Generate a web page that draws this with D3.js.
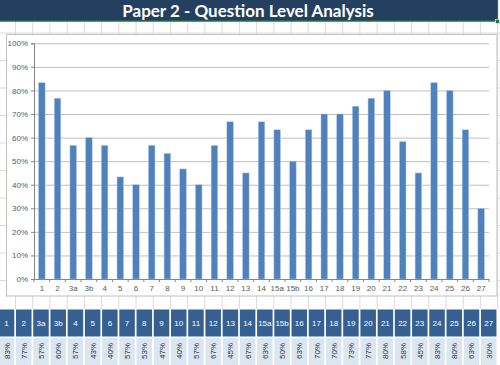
<!DOCTYPE html>
<html>
<head>
<meta charset="utf-8">
<script src="https://cdn.jsdelivr.net/npm/d3@7"></script>
<style>
  body { margin: 0; background: #fff; }
  svg { display: block; font-family: Lato, "Liberation Sans", sans-serif; }
</style>
</head>
<body>
<div id="chart"></div>
<script>
// question labels and facility (share of marks) per question
let questions = ["1", "2", "3a", "3b", "4", "5", "6", "7", "8", "9", "10", "11", "12", "13", "14",
    "15a", "15b", "16", "17", "18", "19", "20", "21", "22", "23", "24", "25", "26", "27"];
let scores = [0.833, 0.767, 0.567, 0.600, 0.567, 0.433, 0.400, 0.567, 0.533, 0.467, 0.400, 0.567, 0.667, 0.450, 0.667,
    0.633, 0.500, 0.633, 0.700, 0.700, 0.733, 0.767, 0.800, 0.583, 0.450, 0.833, 0.800, 0.633, 0.300];
let yTicks = [0, 0.1, 0.2, 0.3, 0.4, 0.5, 0.6, 0.7, 0.8, 0.9, 1.0];
let titleText = "Paper 2 - Question Level Analysis";

let data = questions.map((q, i) => ({ q: q, v: scores[i] }));

let fullWidth = 500, fullHeight = 365;

let svg = d3.select("#chart")
    .append("svg")
    .attr("width", fullWidth)
    .attr("height", fullHeight);

// spreadsheet gridlines behind everything
let colPitch = 17.22;
let colStart = 16 - colPitch;
let grid = svg.append("g").attr("class", "sheet-grid");
d3.range(0, 30).forEach(i => {
    let gx = colStart + i * colPitch - 0.5;
    grid.append("line")
        .attr("x1", gx).attr("x2", gx)
        .attr("y1", 21).attr("y2", 309)
        .style("stroke", "#dadada");
});
[33, 60.5, 88, 115.5, 143, 170.5, 198, 225.5, 253, 280.5].forEach(gy => {
    grid.append("line")
        .attr("x1", 0).attr("x2", fullWidth)
        .attr("y1", gy).attr("y2", gy)
        .style("stroke", "#dadada");
});

// title bar
svg.append("rect")
    .attr("x", 0).attr("y", 0)
    .attr("width", 497).attr("height", 21)
    .style("fill", "#243f60");

svg.append("line")
    .attr("x1", 0).attr("x2", 497.5)
    .attr("y1", 21).attr("y2", 21)
    .style("stroke", "#217346")
    .style("stroke-width", 1.5);
svg.append("line")
    .attr("x1", 497.5).attr("x2", 497.5)
    .attr("y1", 0).attr("y2", 21)
    .style("stroke", "#217346")
    .style("stroke-width", 1.2);
svg.append("rect")
    .attr("x", 495.5).attr("y", 19.5)
    .attr("width", 4).attr("height", 4)
    .style("fill", "#217346")
    .style("stroke", "#fff")
    .style("stroke-width", 0.6);

svg.append("text")
    .attr("x", 248)
    .attr("y", 16.5)
    .attr("text-anchor", "middle")
    .style("font-size", "17px")
    .style("font-weight", "bold")
    .style("fill", "#fff")
    .text(titleText);

// chart box
svg.append("rect")
    .attr("x", 6.5).attr("y", 34.5)
    .attr("width", 490.5).attr("height", 261.5)
    .style("fill", "#fff")
    .style("stroke", "#bfbfbf");

let margin = { top: 43.3, left: 34, right: 489, bottom: 279 };

let x = d3.scaleBand()
    .domain(questions)
    .range([margin.left, margin.right])
    .paddingInner(0.58)
    .paddingOuter(0.29);

let y = d3.scaleLinear()
    .domain([0, 1])
    .range([margin.bottom, margin.top]);

// horizontal gridlines
svg.append("g")
    .attr("class", "grid")
    .attr("transform", `translate(${margin.left},0)`)
    .call(d3.axisLeft(y)
        .tickValues(yTicks)
        .tickSize(-(margin.right - margin.left))
        .tickFormat("")
    )
    .call(g => g.select(".domain").remove())
    .selectAll("line")
    .style("stroke", "#c0c0c0");

// bars
svg.selectAll(".bar")
    .data(data)
    .enter()
    .append("rect")
    .attr("class", "bar")
    .attr("x", d => x(d.q))
    .attr("y", d => y(d.v))
    .attr("width", x.bandwidth())
    .attr("height", d => y(0) - y(d.v))
    .style("fill", "#4f81bd")
    .style("stroke", "#b9cde5")
    .style("stroke-width", 0.5);

// y axis
let yAxis = svg.append("g")
    .attr("transform", `translate(${margin.left},0)`)
    .call(d3.axisLeft(y)
        .tickValues(yTicks)
        .tickSize(3)
        .tickPadding(3)
        .tickFormat(d3.format(".0%")));
yAxis.select(".domain").style("stroke", "#868686");
yAxis.selectAll("line").style("stroke", "#868686");
yAxis.selectAll("text")
    .style("font-size", "8px")
    .style("font-family", "'Liberation Sans', sans-serif")
    .style("fill", "#595959");

// x axis, tick marks sit between the categories
let xAxis = svg.append("g")
    .attr("transform", `translate(0,${margin.bottom})`)
    .call(d3.axisBottom(x).tickSize(0).tickPadding(6));
xAxis.select(".domain").attr("d", `M${margin.left},0.5H${margin.right}`).style("stroke", "#868686");
xAxis.selectAll("text")
    .style("font-size", "8px")
    .style("font-family", "'Liberation Sans', sans-serif")
    .style("fill", "#595959");
xAxis.selectAll(".sep")
    .data(d3.range(0, questions.length + 1))
    .enter()
    .append("line")
    .attr("class", "sep")
    .attr("x1", i => margin.left + i * x.step())
    .attr("x2", i => margin.left + i * x.step())
    .attr("y1", 0).attr("y2", 3)
    .style("stroke", "#868686");

// table under the chart
let tx = d3.scaleBand()
    .domain(questions)
    .range([colStart, colStart + questions.length * colPitch]);

let cellW = colPitch - 1.7;

let header = svg.selectAll(".hcell")
    .data(data)
    .enter()
    .append("g")
    .attr("class", "hcell");
header.append("rect")
    .attr("x", d => tx(d.q))
    .attr("y", 309.5)
    .attr("width", cellW)
    .attr("height", 27)
    .style("fill", "#366092");
header.append("text")
    .attr("x", d => tx(d.q) + cellW / 2)
    .attr("y", 326)
    .attr("text-anchor", "middle")
    .style("font-size", "8px")
    .style("font-family", "'Liberation Sans', sans-serif")
    .style("fill", "#fff")
    .text(d => d.q);

let vals = svg.selectAll(".vcell")
    .data(data)
    .enter()
    .append("g")
    .attr("class", "vcell");
vals.append("rect")
    .attr("x", d => tx(d.q))
    .attr("y", 338)
    .attr("width", cellW)
    .attr("height", 30)
    .style("fill", "#dce6f1");
vals.append("text")
    .attr("transform", d => `translate(${tx(d.q) + cellW / 2 + 3},351) rotate(-90)`)
    .attr("text-anchor", "middle")
    .style("font-size", "8px")
    .style("font-family", "'Liberation Sans', sans-serif")
    .style("fill", "#333")
    .text(d => d3.format(".0%")(d.v));
</script>
</body>
</html>
